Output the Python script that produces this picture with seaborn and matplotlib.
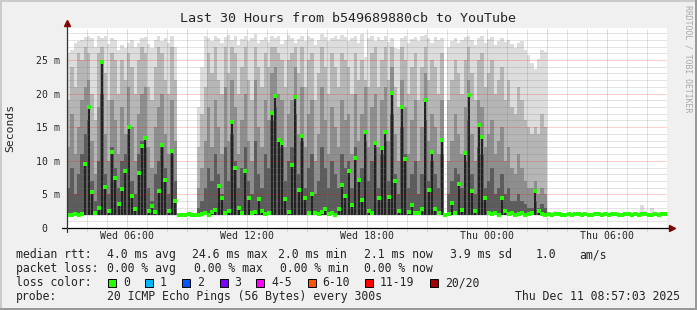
import numpy as np
import matplotlib
matplotlib.use("Agg")
import matplotlib.pyplot as plt
import seaborn as sns
from matplotlib.patches import Rectangle
from matplotlib.lines import Line2D

# ---------------- data (10-minute steps from Wed 03:00, values in ms) ----------------
rtt_median = [
    2.0, 2.0, 2.1, 2.0, 2.1, 9.5, 18.0, 5.4, 2.3, 3.0,
    24.7, 6.1, 2.6, 11.3, 7.4, 3.5, 5.8, 8.5, 15.0, 4.8,
    2.8, 8.2, 12.2, 13.4, 2.5, 3.2, 2.4, 5.5, 12.4, 7.1,
    2.6, 11.4, 4.0, 2.0, 2.0, 2.0, 2.1, 2.0, 2.0, 2.0,
    2.1, 2.2, 2.0, 2.4, 2.7, 6.2, 4.5, 2.2, 2.5, 15.8,
    8.9, 3.0, 2.3, 8.5, 4.5, 2.2, 2.4, 4.3, 2.6, 2.1,
    2.3, 17.1, 19.6, 13.1, 12.6, 4.3, 2.4, 9.4, 19.5, 5.7,
    13.7, 4.5, 2.2, 5.0, 2.3, 2.1, 2.4, 2.8, 2.1, 2.2,
    2.0, 2.8, 6.4, 4.7, 8.5, 3.4, 10.4, 7.1, 4.2, 14.3,
    2.5, 2.3, 12.6, 4.5, 11.9, 14.3, 4.6, 20.1, 7.0, 2.6,
    18.0, 10.2, 2.4, 3.4, 2.2, 2.3, 2.8, 19.1, 5.6, 11.3,
    2.9, 2.3, 13.1, 2.0, 2.1, 3.7, 2.2, 6.5, 2.7, 11.2,
    19.8, 5.5, 2.6, 15.3, 13.5, 4.5, 2.2, 2.1, 2.3, 2.0,
    4.5, 2.6, 2.1, 2.2, 2.0, 2.1, 2.3, 2.0, 2.1, 2.2,
    5.5, 2.6, 2.1, 2.0, 2.1, 2.0, 2.1, 2.1, 2.0, 2.0,
    2.1, 2.0, 2.1, 2.1, 2.0, 2.1, 2.0, 2.0, 2.1, 2.1,
    2.0, 2.1, 2.0, 2.1, 2.1, 2.0, 2.0, 2.1, 2.1, 2.0,
    2.1, 2.0, 2.1, 2.1, 2.0, 2.0, 2.1, 2.0, 2.1, 2.1,
]
rtt_max = [
    26.0, 26.5, 27.5, 27.8, 28.0, 28.4, 28.6, 28.2, 27.0, 28.5,
    28.3, 28.6, 27.4, 28.2, 28.0, 26.5, 27.2, 26.8, 27.5, 28.0,
    27.0, 27.6, 28.2, 28.4, 27.4, 26.8, 28.0, 28.6, 27.8, 28.3,
    27.6, 28.5, 27.0, 2.0, 2.0, 2.0, 2.1, 2.0, 2.0, 18.0,
    24.0, 28.6, 28.3, 27.9, 28.5, 28.2, 27.6, 28.4, 28.7, 28.0,
    28.5, 27.2, 28.1, 28.6, 27.8, 28.3, 28.8, 27.5, 28.0, 28.4,
    27.7, 28.6, 28.2, 28.5, 27.4, 28.0, 28.7, 28.3, 27.6, 28.1,
    28.5, 27.9, 28.6, 28.2, 27.3, 28.0, 28.8, 28.4, 27.8, 28.3,
    28.6, 28.1, 28.7, 28.4, 27.9, 28.2, 28.5, 27.5, 28.8, 25.4,
    28.3, 28.6, 27.9, 28.4, 28.0, 28.5, 27.7, 28.3, 26.8, 26.6,
    28.2, 28.6, 27.5, 28.1, 28.4, 27.8, 28.5, 28.7, 28.2, 27.6,
    28.4, 28.0, 28.3, 2.0, 27.0, 27.8, 28.2, 27.5, 28.0, 28.4,
    28.6, 28.0, 27.3, 28.3, 28.5, 27.6, 28.1, 28.4, 27.2, 27.9,
    28.3, 27.7, 28.0, 27.4, 26.8, 27.5, 27.9, 26.5, 25.8, 24.5,
    23.6, 25.2, 26.5, 26.2, 2.1, 2.0, 2.5, 2.1, 2.4, 2.0,
    2.1, 2.0, 2.1, 2.1, 2.0, 2.1, 2.0, 2.0, 2.1, 2.1,
    2.0, 2.1, 2.0, 2.1, 2.1, 2.0, 2.0, 2.1, 2.1, 2.0,
    2.1, 2.0, 3.4, 2.6, 2.0, 3.0, 2.1, 2.0, 2.1, 2.1,
]
rtt_p90 = [
    19, 24, 21, 26, 25, 27, 26, 20, 16, 26,
    27, 23, 19, 26, 25, 20, 25, 22, 26, 24,
    20, 25, 27, 26, 21, 19, 24, 27, 26, 22,
    20, 27, 22, 2, 2, 2, 2, 2, 2, 12,
    17, 21, 26, 23, 27, 22, 20, 27, 23, 27,
    26, 20, 24, 27, 22, 19, 27, 24, 21, 26,
    24, 27, 27, 26, 25, 21, 25, 26, 27, 23,
    27, 21, 25, 26, 19, 23, 27, 24, 20, 26,
    24, 21, 26, 25, 24, 20, 26, 22, 25, 22,
    21, 26, 27, 21, 25, 27, 22, 27, 21, 18,
    27, 25, 20, 24, 26, 19, 24, 27, 22, 25,
    24, 20, 26, 2, 19, 22, 25, 23, 20, 25,
    27, 23, 19, 25, 26, 21, 23, 25, 20, 22,
    24, 19, 22, 18, 17, 21, 19, 16, 15, 14,
    15, 14, 17, 15,
]
rtt_p75 = [
    12, 17, 11, 15, 19, 21, 22, 13, 8, 18,
    25, 14, 10, 19, 16, 11, 18, 14, 21, 15,
    10, 17, 20, 21, 12, 9, 15, 18, 20, 14,
    11, 19, 13, 2, 2, 2, 2, 2, 2, 6,
    9, 13, 18, 12, 19, 15, 11, 21, 13, 22,
    18, 11, 16, 20, 13, 10, 22, 15, 12, 19,
    16, 23, 24, 20, 19, 12, 17, 19, 24, 14,
    21, 12, 17, 19, 10, 14, 21, 16, 11, 18,
    15, 12, 19, 16, 17, 11, 20, 13, 17, 21,
    12, 18, 20, 12, 19, 21, 13, 24, 14, 10,
    22, 18, 11, 16, 19, 10, 15, 23, 13, 17,
    15, 11, 19, 2, 10, 13, 17, 14, 11, 18,
    22, 14, 10, 19, 18, 12, 14, 16, 11, 13,
    15, 10, 12, 9, 8, 11, 9, 7, 6, 6,
    7, 5, 6, 5,
]
rtt_p60 = [
    6, 9, 5, 8, 11, 14, 16, 7, 4, 10,
    20, 8, 5, 12, 9, 6, 10, 11, 14, 7,
    5, 11, 13, 12, 6, 4, 8, 10, 12, 9,
    5, 11, 7, 2, 2, 2, 2, 2, 2, 3,
    4, 6, 9, 7, 11, 8, 5, 12, 7, 14,
    10, 6, 9, 12, 7, 5, 13, 8, 6, 11,
    9, 16, 18, 13, 12, 7, 10, 12, 17, 8,
    13, 6, 9, 11, 5, 7, 12, 9, 6, 10,
    8, 6, 11, 9, 10, 6, 12, 7, 9, 13,
    7, 10, 12, 6, 11, 13, 7, 17, 8, 5,
    15, 11, 6, 8, 10, 5, 8, 16, 7, 10,
    8, 6, 11, 2, 5, 7, 9, 8, 6, 10,
    16, 8, 5, 12, 11, 6, 7, 9, 5, 6,
    8, 5, 6, 4, 4, 5, 4, 3.5, 3, 3,
    4, 3, 3.5, 3,
]
RTT_FLOOR = 2.0

x_tick_hours = [3, 9, 15, 21, 27]
x_tick_labels = ["Wed 06:00", "Wed 12:00", "Wed 18:00", "Thu 00:00", "Thu 06:00"]
y_tick_values = [0, 5, 10, 15, 20, 25]
y_tick_labels = ["0  ", "5 m", "10 m", "15 m", "20 m", "25 m"]

title = "Last 30 Hours from b549689880cb to YouTube"
loss_labels = ["0", "1", "2", "3", "4-5", "6-10", "11-19", "20/20"]
loss_colors = ["#26ff00", "#00b8ff", "#0059ff", "#7e00ff", "#ff00ff", "#ff5500", "#ff0000", "#a10000"]
median_stats = ["median rtt:", "4.0 ms avg", "24.6 ms max", "2.0 ms min", "2.1 ms now", "3.9 ms sd", "1.0", "am/s"]
loss_stats = ["packet loss:", "0.00 % avg", "0.00 % max", "0.00 % min", "0.00 % now"]
probe_text = "20 ICMP Echo Pings (56 Bytes) every 300s"
stamp_text = "Thu Dec 11 08:57:03 2025"

# ---------------- figure ----------------
W, H = 697, 310
sns.set_style("white")
plt.rcParams['font.family'] = ['DejaVu Sans Mono']
BG = '#f0f0f0'
fig = plt.figure(figsize=(W / 100, H / 100), dpi=100, facecolor=BG)
L, R, T, B = 67, 667, 28, 228
ax = fig.add_axes([L / W, 1 - B / H, (R - L) / W, (B - T) / H])
ax.set_facecolor('white')
for s in ax.spines.values():
    s.set_visible(False)

STEP = 1 / 6
n = len(rtt_median)
edges = np.arange(n + 1) * STEP
centers = edges[:-1] + STEP / 2
ns = len(rtt_p90)


def band(vals, color, count):
    v = np.append(np.asarray(vals, float), vals[-1])
    ax.fill_between(edges[:count + 1], RTT_FLOOR, v, step='post',
                    color=color, linewidth=0, zorder=1)


band(rtt_max, '#dddddd', n)
band(rtt_p90, '#b6b6b6', ns)
band(rtt_p75, '#8e8e8e', ns)
band(rtt_p60, '#5c5c5c', ns)

med = np.asarray(rtt_median)
mask = med > 2.35
ax.bar(centers[mask], med[mask] - RTT_FLOOR, bottom=RTT_FLOOR, width=0.11,
       color='#222222', linewidth=0, zorder=1.5)

sns.scatterplot(x=centers, y=med, ax=ax, marker='s', s=6, color='#26ff00',
                linewidth=0, zorder=4, legend=False)

ymax = (B - T) / 6.72
ax.set_xlim(0, 30)
ax.set_ylim(0, ymax)

# grid
dot = (0, (1, 1))
RED = (1, 0, 0, 0.38)
GRAY = (0.45, 0.45, 0.45, 0.4)
xt = ax.get_xaxis_transform()
for h in range(1, 30):
    c = RED if h % 3 == 0 else GRAY
    ax.axvline(h, color=c, lw=0.72, ls=dot, zorder=3)
    ax.plot([h, h], [0, -4 / 200], transform=xt, color=c, lw=0.72, ls=dot,
            clip_on=False, zorder=3)
for m in range(1, 30):
    if m > ymax:
        break
    c = RED if m % 5 == 0 else GRAY
    ax.axhline(m, color=c, lw=0.72, ls=dot, zorder=3)

# axes lines with arrows
ax.plot([-5 / 600, 1.006], [0, 0], transform=ax.transAxes, color='black', lw=0.9, clip_on=False, zorder=5)
ax.plot([0, 0], [-4 / 200, 1.02], transform=ax.transAxes, color='#333333', lw=0.9, clip_on=False, zorder=5)
ax.plot([1.008], [0], transform=ax.transAxes, marker='>', color='#7f0000', markersize=4, clip_on=False, zorder=6)
ax.plot([0], [1.025], transform=ax.transAxes, marker='^', color='#7f0000', markersize=4, clip_on=False, zorder=6)

ax.set_xticks(x_tick_hours)
ax.set_xticklabels(x_tick_labels)
ax.set_yticks(y_tick_values)
ax.set_yticklabels(y_tick_labels)
ax.tick_params(axis='x', length=0, pad=2.3, labelsize=7.1)
ax.tick_params(axis='y', length=0, pad=5, labelsize=7.1)
ax.set_xlabel("")
ax.set_ylabel("")


def px(x, y):
    return x / W, 1 - y / H


fig.text(*px(347.5, 19), title, ha='center', va='center', fontsize=9.6)
fig.text(*px(10, 128), "Seconds", ha='center', va='center', rotation=90, fontsize=8.2)
fig.text(*px(688, 5), "RRDTOOL / TOBI OETIKER", ha='center', va='top', rotation=270,
         fontsize=5.9, color='#a8a8a8')

LF = 8.3
row1_x = [16, 107, 192, 278, 364, 450, 536, 579]
for xx, s in zip(row1_x, median_stats):
    fig.text(*px(xx, 254.5), s, ha='left', va='center', fontsize=LF)
row2_x = [16, 107, 194, 280, 364]
for xx, s in zip(row2_x, loss_stats):
    fig.text(*px(xx, 268.5), s, ha='left', va='center', fontsize=LF)
fig.text(*px(16, 282.5), "loss color:", ha='left', va='center', fontsize=LF)
box_x = [108, 145, 182, 220, 256, 308, 365, 430]
lab_x = [123, 160, 197, 234, 271, 322, 380, 445]
for bx, lx, c, s in zip(box_x, lab_x, loss_colors, loss_labels):
    fig.add_artist(Rectangle(px(bx, 286.5), 8 / W, 8 / H, transform=fig.transFigure,
                             facecolor=c, edgecolor='black', lw=0.7))
    fig.text(*px(lx, 282.5), s, ha='left', va='center', fontsize=LF)
fig.text(*px(16, 296.5), "probe:", ha='left', va='center', fontsize=LF)
fig.text(*px(107, 296.5), probe_text, ha='left', va='center', fontsize=LF)
fig.text(*px(680, 296.5), stamp_text, ha='right', va='center', fontsize=LF)

# frame shading
lw = 1.44
fig.add_artist(Line2D([0, 1], [1 - 1 / H, 1 - 1 / H], transform=fig.transFigure, color='#cbcbcb', lw=lw))
fig.add_artist(Line2D([1 / W, 1 / W], [0, 1], transform=fig.transFigure, color='#cbcbcb', lw=lw))
fig.add_artist(Line2D([0, 1], [1 / H, 1 / H], transform=fig.transFigure, color='#999999', lw=lw))
fig.add_artist(Line2D([1 - 1 / W, 1 - 1 / W], [0, 1], transform=fig.transFigure, color='#999999', lw=lw))

fig.savefig("out.png", dpi=100, facecolor=BG)
